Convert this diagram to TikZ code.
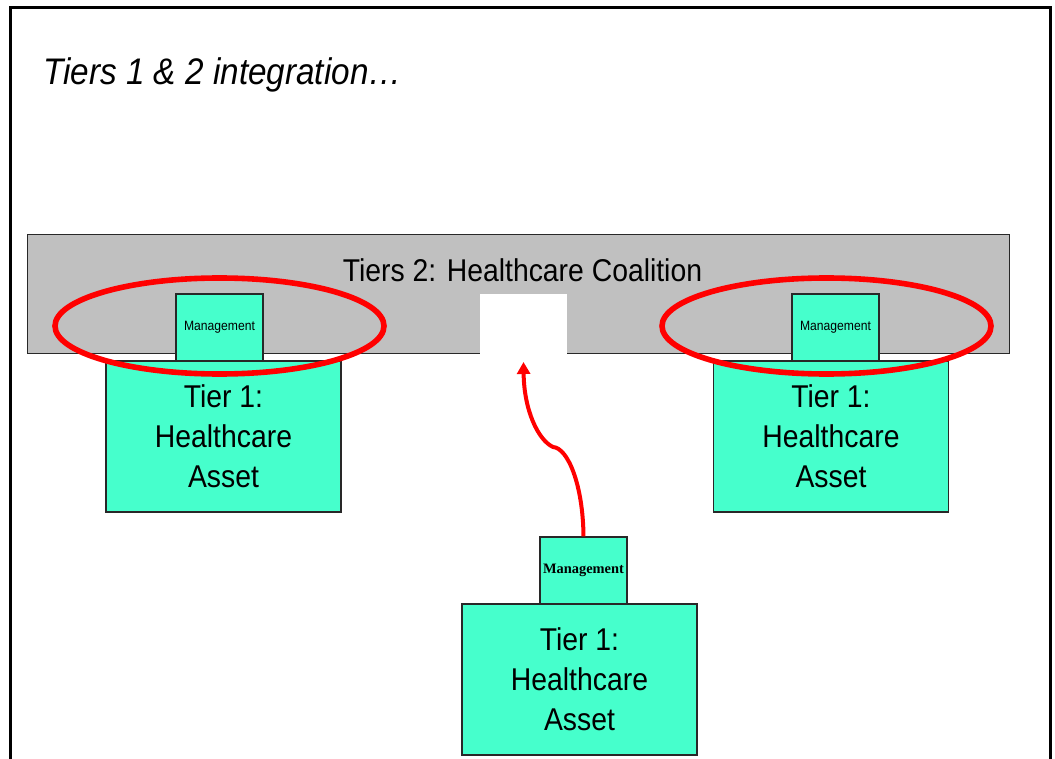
\documentclass[tikz,border=0pt]{standalone}
\usepackage{fontspec}
\setmainfont{Liberation Sans}[FakeStretch=0.9]
\newfontfamily\mgmtserif{Liberation Serif}
\usetikzlibrary{shapes.geometric,arrows.meta}

\definecolor{assetgreen}{RGB}{70,255,204}
\definecolor{coalgray}{RGB}{192,192,192}
\definecolor{edgegray}{RGB}{40,40,40}
\definecolor{ringred}{RGB}{255,0,0}

\tikzset{
  coalbar/.style={draw=edgegray, line width=1pt, fill=coalgray, inner sep=0pt,
    minimum width=982pt, minimum height=118pt},
  gapbox/.style={fill=white, inner sep=0pt, minimum width=87pt, minimum height=60pt},
  mgmtbox/.style={draw=edgegray, line width=1.2pt, fill=assetgreen, inner sep=0pt,
    minimum width=87pt, minimum height=67pt, font=\fontsize{13.5}{16}\selectfont},
  mgmtboxserif/.style={mgmtbox, font=\mgmtserif\bfseries\fontsize{14.4}{16}\selectfont},
  assetbox/.style={draw=edgegray, line width=1.2pt, fill=assetgreen, inner sep=0pt,
    minimum width=235pt, minimum height=151pt, align=center,
    font=\fontsize{31.5}{40}\selectfont},
  ring/.style={ellipse, draw=ringred, line width=5.6pt, inner sep=0pt,
    minimum width=329pt, minimum height=96pt},
  frameline/.style={line width=3pt, draw=black},
  joinarrow/.style={draw=ringred, line width=4pt,
    -{Triangle[width=13pt,length=12pt]}}
}

\begin{document}
\begin{tikzpicture}[x=1pt, y=-1pt]
  \useasboundingbox (0,0) rectangle (1055,759);

  % slide frame
  \draw[frameline] (10,759) -- (10,8) -- (1050,8) -- (1050,759);

  % heading
  \node[anchor=base west, inner sep=0pt, font=\itshape\fontsize{37}{44}\selectfont]
    (heading) at (43,85) {Tiers 1 \& 2 integration…};

  % tier 2 coalition bar with its open slot
  \node[coalbar] (coalition) at (518,294) {};
  \node[anchor=base, inner sep=0pt, font=\fontsize{31.5}{40}\selectfont]
    (coaltitle) at (522.5,282) {Tiers 2: Healthcare Coalition};
  \node[gapbox] (slot) at (523.5,324) {};

  % left asset, already joined
  \node[mgmtbox] (mgmtL) at (219.5,327.5) {Management};
  \node[assetbox] (assetL) at (223.5,436.5) {Tier 1:\\Healthcare\\Asset};

  % right asset, already joined
  \node[mgmtbox] (mgmtR) at (835.5,327.5) {Management};
  \node[assetbox] (assetR) at (831,436.5) {Tier 1:\\Healthcare\\Asset};

  % new asset, joining
  \node[mgmtboxserif] (mgmtN) at (583.5,570.5) {Management};
  \node[assetbox] (assetN) at (579.5,679.5) {Tier 1:\\Healthcare\\Asset};

  % highlight rings
  \node[ring] (ringL) at (219.5,326) {};
  \node[ring] (ringR) at (826.5,326) {};

  % join arrow into the open slot
  \coordinate (slotin) at (523.5,362);
  \draw[joinarrow] (mgmtN.north)
    .. controls (583,485) and (568,448) .. (553,447)
    .. controls (538,440) and (524,410) .. (slotin);
\end{tikzpicture}
\end{document}
